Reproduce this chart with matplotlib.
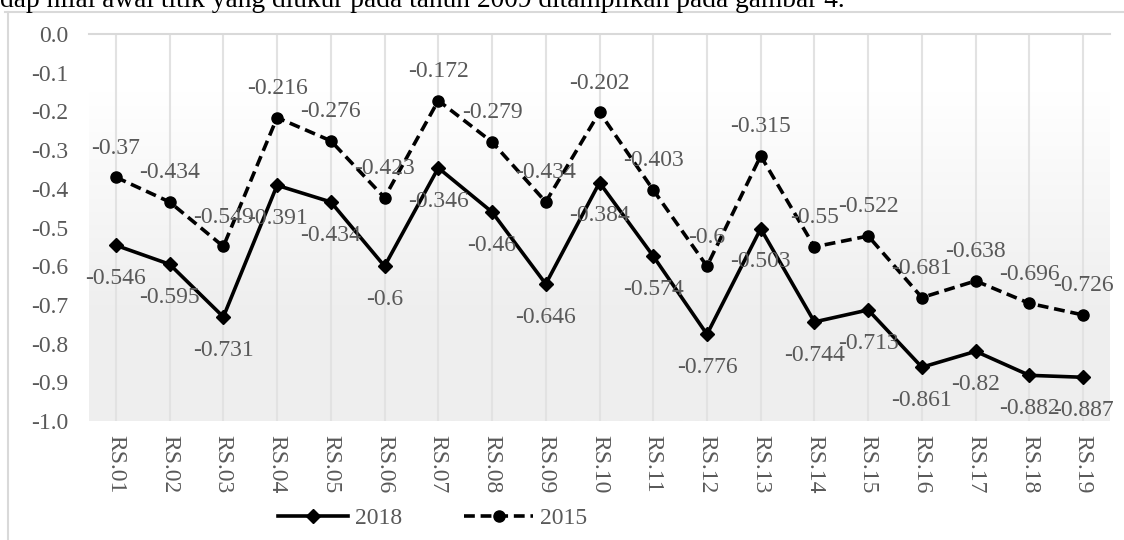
import numpy as np
import matplotlib
matplotlib.use("Agg")
import matplotlib.pyplot as plt
from matplotlib.lines import Line2D
from matplotlib.colors import LinearSegmentedColormap

plt.rcParams['font.family'] = ['Liberation Serif', 'DejaVu Serif']

categories = [f"RS.{i:02d}" for i in range(1, 20)]
values_2018 = [-0.546, -0.595, -0.731, -0.391, -0.434, -0.6, -0.346, -0.46, -0.646,
               -0.384, -0.574, -0.776, -0.503, -0.744, -0.713, -0.861, -0.82, -0.882, -0.887]
values_2015 = [-0.37, -0.434, -0.549, -0.216, -0.276, -0.423, -0.172, -0.279, -0.434,
               -0.202, -0.403, -0.6, -0.315, -0.55, -0.522, -0.681, -0.638, -0.696, -0.726]
y_ticks = [0.0, -0.1, -0.2, -0.3, -0.4, -0.5, -0.6, -0.7, -0.8, -0.9, -1.0]
caption = "dap nilai awal titik yang diukur pada tahun 2009 ditampilkan pada gambar 4."

W, H = 1124, 540
fig = plt.figure(figsize=(W / 100, H / 100), dpi=100)
ax = fig.add_axes([89 / W, 1 - 421 / H, (1110 - 89) / W, (421 - 34) / H])

text_col = '#595959'
grid_col = '#d9d9d9'
fs = 17

x = np.arange(len(categories))
ax.set_xlim(-0.5, len(categories) - 0.5)

# plot-area gradient: white at top fading to light grey
grad = np.linspace(0, 1, 256).reshape(-1, 1)
cmap = LinearSegmentedColormap.from_list('bg', [(0, '#ffffff'), (0.15, '#ffffff'), (0.7, '#efefef'), (1, '#eeeeee')])
ax.imshow(grad, cmap=cmap, aspect='auto', extent=(-0.5, len(categories) - 0.5, 0.0, -1.0),
          origin='lower', zorder=0, interpolation='bilinear')
ax.set_ylim(-1.0, 0.0)

for xi in x:
    ax.axvline(xi, color='#e2e2e2', lw=1.5, zorder=1)
ax.axhline(0.0, color=grid_col, lw=1.5, zorder=1, clip_on=False)

for s in ax.spines.values():
    s.set_visible(False)

ax.plot(x, values_2018, color='black', lw=2.6, marker='D', markersize=7.5, zorder=3, label='2018')
ax.plot(x, values_2015, color='black', lw=2.6, ls=(0, (3, 1.6)), marker='o', markersize=8,
        zorder=3, label='2015')

for xi, v in zip(x, values_2018):
    ax.annotate(f"{v:g}", (xi, v), xytext=(0, -24), textcoords='offset points',
                ha='center', va='center', fontsize=fs, color=text_col, zorder=4)
for xi, v in zip(x, values_2015):
    ax.annotate(f"{v:g}", (xi, v), xytext=(0, 21), textcoords='offset points',
                ha='center', va='center', fontsize=fs, color=text_col, zorder=4)

ax.set_yticks(y_ticks)
ax.set_yticklabels([f"{t:.1f}".replace("-0.0", "0.0") for t in y_ticks])
ax.set_xticks(x)
ax.set_xticklabels(categories, rotation=270)
ax.tick_params(axis='y', length=0, pad=15, labelsize=fs, labelcolor=text_col)
ax.tick_params(axis='x', length=0, pad=10, labelsize=fs, labelcolor=text_col)

handles = [
    Line2D([], [], color='black', lw=2.6, marker='D', markersize=7.5),
    Line2D([], [], color='black', lw=2.6, ls=(0, (3, 1.6)), marker='o', markersize=8),
]
fig.legend(handles, ['2018', '2015'], loc='center', bbox_to_anchor=(433 / W, 1 - 518 / H),
           ncol=2, frameon=False, fontsize=fs, labelcolor=text_col, handlelength=2.95,
           handletextpad=0.3, columnspacing=2.6)

# chart frame edges
fig.add_artist(Line2D([8 / W, 8 / W], [0, 1 - 12 / H], color=grid_col, lw=1.5))
fig.add_artist(Line2D([5 / W, 1], [1 - 12 / H, 1 - 12 / H], color=grid_col, lw=1.5))

# preceding paragraph line, cut at the top edge
fig.text(0, 1 - 7 / H, caption, fontsize=19.7, color='black', va='baseline', ha='left')

fig.savefig('out.png', dpi=100)
